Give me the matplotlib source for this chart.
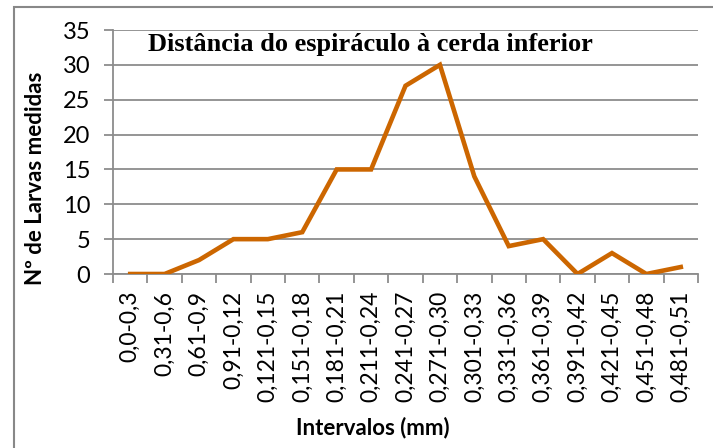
import matplotlib.pyplot as plt
from matplotlib.patches import Rectangle

# Data
intervalos = ['0,0-0,3', '0,31-0,6', '0,61-0,9', '0,91-0,12', '0,121-0,15',
              '0,151-0,18', '0,181-0,21', '0,211-0,24', '0,241-0,27', '0,271-0,30',
              '0,301-0,33', '0,331-0,36', '0,361-0,39', '0,391-0,42', '0,421-0,45',
              '0,451-0,48', '0,481-0,51']
larvas = [0, 0, 2, 5, 5, 6, 15, 15, 27, 30, 14, 4, 5, 0, 3, 0, 1]

W, H = 713, 448
fig = plt.figure(figsize=(W / 100, H / 100), dpi=100)
ax = fig.add_axes([113 / W, 1 - 274 / H, (698 - 113) / W, (274 - 30) / H])

# outer chart border (only left/top visible in the crop)
fig.patches.append(Rectangle((14 / W, -0.1), 1.2, (1 - 7 / H) + 0.1,
                             transform=fig.transFigure, fill=False,
                             edgecolor='#888888', linewidth=1.5))

x = list(range(len(larvas)))
ax.plot(x, larvas, color='#CC6600', linewidth=3.3, solid_joinstyle='miter', zorder=3)

ax.set_xlim(-0.5, len(larvas) - 0.5)
ax.set_ylim(0, 35)
ax.set_yticks(range(0, 36, 5))
ax.yaxis.grid(True, color='#8c8c8c', linewidth=1.3)
ax.set_axisbelow(True)

for s in ['top', 'right']:
    ax.spines[s].set_visible(False)
for s in ['left', 'bottom']:
    ax.spines[s].set_color('#8c8c8c')
    ax.spines[s].set_linewidth(1.3)

# category labels, ticks between categories like Excel
ax.set_xticks(x)
ax.set_xticklabels(intervalos, rotation=90, fontsize=16.5, family='Lato')
ax.tick_params(axis='x', length=0, pad=12)
ax.set_xticks([i - 0.5 for i in range(len(larvas) + 1)], minor=True)
ax.tick_params(axis='x', which='minor', length=6.5, color='#8c8c8c', width=1.3)
ax.tick_params(axis='y', length=6.5, color='#8c8c8c', width=1.3, labelsize=17, pad=10)
for lbl in ax.get_yticklabels():
    lbl.set_family('Lato')

fig.text(36 / W, 1 - 178 / H, 'Nº de Larvas medidas', rotation=90, fontsize=16,
         fontweight='bold', family='Lato', ha='center', va='center')
fig.text(373 / W, 1 - 428 / H, 'Intervalos (mm)', fontsize=16,
         fontweight='bold', family='Lato', ha='center', va='center')

fig.text(148 / W, 1 - 45 / H, 'Distância do espiráculo à cerda inferior',
         fontsize=19, fontweight='bold', family='Liberation Serif', va='center', ha='left')

fig.savefig('out.png', dpi=100)
